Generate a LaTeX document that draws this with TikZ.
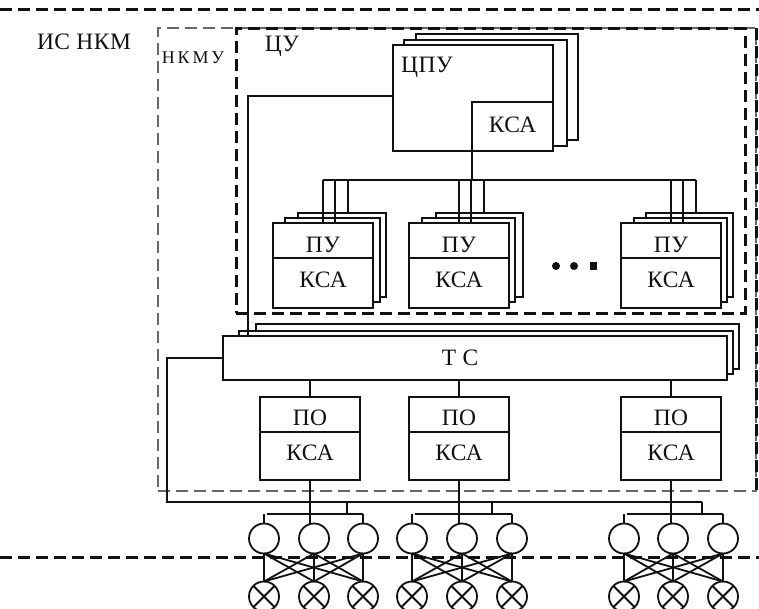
\documentclass[tikz,border=0pt]{standalone}
\usepackage{fontspec}
\setmainfont{Liberation Serif}
\newfontfamily\boxfont[LetterSpace=2]{Liberation Serif}
\newfontfamily\widefont[LetterSpace=16]{Liberation Serif}
\usetikzlibrary{calc,positioning}
\definecolor{inkline}{HTML}{111111}
\definecolor{thinzone}{HTML}{666666}
\tikzset{
  slabbox/.style={draw=inkline,fill=white,line width=1.8pt,inner sep=0pt,outer sep=0pt},
  wire/.style={draw=inkline,line width=1.8pt},
  heavydash/.style={draw=inkline,line width=3pt,dash pattern=on 12pt off 6pt},
  lightdash/.style={draw=thinzone,line width=1.2pt,dash pattern=on 12pt off 6pt},
  lamp/.style={circle,draw=inkline,fill=white,line width=1.8pt,minimum size=30pt,inner sep=0pt,outer sep=0pt},
  tagtext/.style={text=inkline,inner sep=0pt,font=\fontsize{23.5}{25}\boxfont}
}
\newcommand{\slab}[6][]{
  \pgfmathsetmacro{\slabw}{#4-#2}
  \pgfmathsetmacro{\slabh}{#5-#3}
  \node[slabbox,minimum width=\slabw pt,minimum height=\slabh pt,#1] (#6) at ({(#2+#4)/2},{(#3+#5)/2}) {};
}
\begin{document}
\begin{tikzpicture}[x=1pt,y=-1pt]
\useasboundingbox (0,0) rectangle (759,609);
\coordinate (topl) at (0,10);
\coordinate (topr) at (759,10);
\coordinate (lowl) at (0,557);
\coordinate (lowr) at (759,557);
\draw[heavydash] (topl) -- (topr);
\draw[heavydash] (lowl) -- (lowr);

\node[lightdash,minimum width=598pt,minimum height=463pt,inner sep=0pt,outer sep=0pt] (nkmu) at (457,259.5) {};
\draw[heavydash] (nkmu.north east) -- (nkmu.south east);
\node[heavydash,minimum width=509pt,minimum height=284pt,inner sep=0pt,outer sep=0pt] (cu) at (490.5,171) {};

\node[tagtext] (isname) at (84,42) {ИС НКМ};
\node[tagtext,font=\fontsize{18}{20}\widefont] (nkmuname) at (193,58) {НКМУ};
\node[tagtext] (cuname) at (282,46) {ЦУ};

\slab{416}{34}{578}{140}{cpuc}
\slab{404}{40}{567}{146}{cpub}
\slab{393}{45}{553}{151}{cpu}
\slab{472}{102}{553}{151}{cpuksa}
\node[tagtext] (cpuname) at (427,67) {ЦПУ};
\node[tagtext] (cpuksaname) at ([yshift=2pt]cpuksa) {КСА};

\foreach \n/\la/\lb/\lc/\ra/\rb/\rc in {1/273/285/298/373/380/386,2/409/422/436/509/515/523,3/621/634/646/721/727/733}{
  \slab{\lc}{213}{\rc}{297}{puc\n}
  \slab{\lb}{218}{\rb}{302}{pub\n}
  \slab{\la}{223}{\ra}{258}{pu\n}
  \slab{\la}{258}{\ra}{308}{puksa\n}
  \node[tagtext] (puname\n) at ([yshift=-4pt]pu\n) {ПУ};
  \node[tagtext] (puksaname\n) at ([yshift=3pt]puksa\n) {КСА};
}

\coordinate (bus) at (459,180);
\draw[wire] (pu1.north |- bus) -- ([xshift=25pt]pu3.north |- bus);
\draw[wire] (cpuksa.south west) -- (cpuksa.south west |- bus);
\foreach \n in {1,2,3}{
  \draw[wire] (pu\n.north) -- (pu\n.north |- bus);
  \draw[wire] ([xshift=12pt]pu\n.north) -- ([xshift=12pt]pu\n.north |- bus);
  \draw[wire] ([xshift=25pt]pu\n.north |- puc\n.north) -- ([xshift=25pt]pu\n.north |- bus);
}

\node[circle,fill=inkline,minimum size=8pt,inner sep=0pt] (dota) at (556,266) {};
\node[circle,fill=inkline,minimum size=8pt,inner sep=0pt] (dotb) at (574,266) {};
\node[rectangle,fill=inkline,minimum size=7pt,inner sep=0pt] (dotc) at (593,266) {};

\slab{256}{324}{739}{369}{tcc}
\slab{239}{331}{733}{374}{tcb}
\slab{223}{336}{727}{380}{tc}
\node[tagtext] (tcname) at (460,358) {Т С};

\coordinate (cpuleft) at (248,96);
\draw[wire] ([yshift=2pt]cpu.west) -- (cpuleft) -- (cpuleft |- tc.north);

\coordinate (tcleft) at (167,502);
\coordinate (tcright) at (702,502);
\draw[wire] (tc.west) -| (tcleft) -- (tcright);

\foreach \n/\la/\ra in {1/260/360,2/409/509,3/621/721}{
  \slab{\la}{397}{\ra}{432}{po\n}
  \slab{\la}{432}{\ra}{480}{poksa\n}
  \node[tagtext] (poname\n) at ([yshift=-3pt]po\n) {ПО};
  \node[tagtext] (poksaname\n) at ([yshift=3pt]poksa\n) {КСА};
  \draw[wire] (po\n.north |- tc.south) -- (po\n.north);
}

\foreach \n/\x in {1/264,2/314,3/363,4/412,5/462,6/512,7/624,8/673,9/723}{
  \node[lamp] (up\n) at (\x,538.5) {};
  \node[lamp] (lo\n) at (\x,596.5) {};
  \draw[wire] (lo\n.north west) -- (lo\n.south east);
  \draw[wire] (lo\n.north east) -- (lo\n.south west);
}

\foreach \g/\a/\m/\c/\t in {1/1/2/3/347,2/4/5/6/492,3/7/8/9/702}{
  \coordinate (tap\g) at (\t,502);
  \coordinate (hub\g) at (\t,514);
  \draw[wire] (tap\g) -- (hub\g);
  \draw[wire] ([xshift=3pt]up\a.north |- hub\g) -- (up\c.north |- hub\g);
  \draw[wire] (up\a.north) -- (up\a.north |- hub\g);
  \draw[wire] (up\c.north) -- (up\c.north |- hub\g);
  \draw[wire] (poksa\g.south) -- (poksa\g.south |- up\m.north);
  \foreach \i in {\a,\m,\c}{ \foreach \j in {\a,\m,\c}{
    \draw[wire] (up\i.south) -- (lo\j.north);
  }}
}
\end{tikzpicture}
\end{document}
